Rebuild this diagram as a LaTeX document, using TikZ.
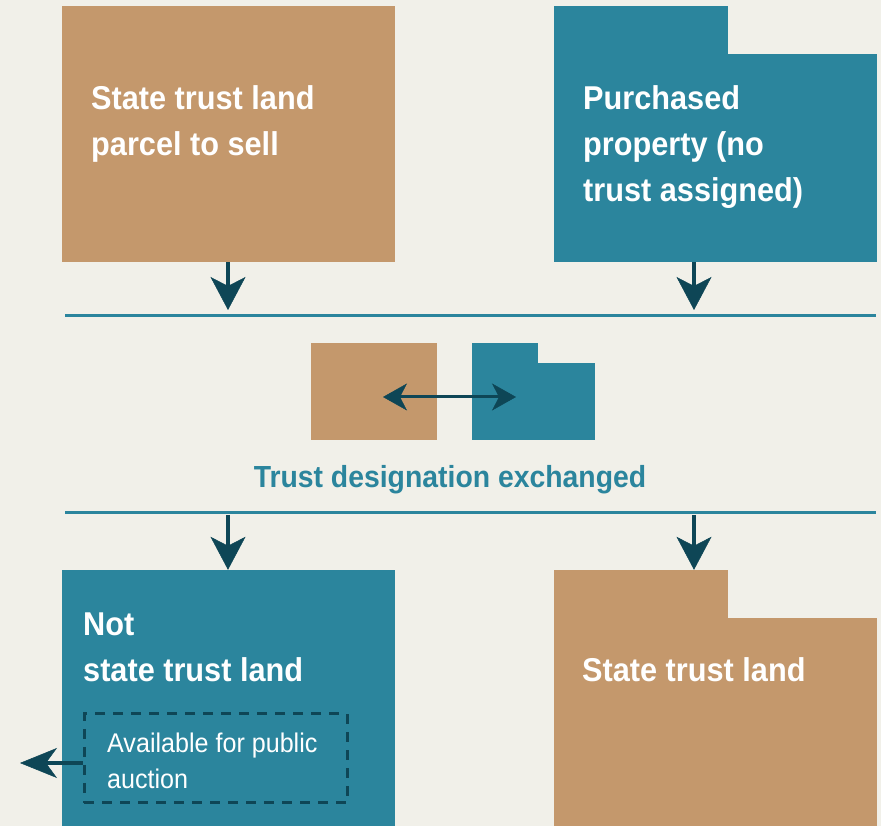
\documentclass[tikz,border=0pt]{standalone}
\usepackage{fontspec}
\setmainfont{Liberation Sans}[FakeStretch=0.93]
\usetikzlibrary{positioning,arrows.meta}
\definecolor{tan}{HTML}{C4986C}
\definecolor{teal}{HTML}{2B859D}
\definecolor{deep}{HTML}{0E4656}
\definecolor{paper}{HTML}{F1F0E9}

\begin{document}
\begin{tikzpicture}[x=1pt, y=1pt,
    >={Stealth[length=33pt, width=35pt, inset=9pt, line width=0.5pt, color=deep, fill=deep]},
    tanbox/.style={rectangle, fill=tan, inner sep=0},
    tealbox/.style={rectangle, fill=teal, inner sep=0},
    boxtxt/.style={anchor=base west, align=left, inner sep=0, text=white,
      font=\fontsize{33}{46}\selectfont\bfseries},
    flow/.style={draw=deep, line width=4pt},
    rule/.style={draw=teal, line width=3pt}]
    \fill [paper] (0,0) rectangle (881,826);
    \useasboundingbox (0,0) rectangle (881,826);

    % top row
    \node [tanbox, minimum width=333, minimum height=256] (land) at (228.5,692) {};
    \node [tealbox, minimum width=323, minimum height=208] (buy) at (715.5,668) {};
    \node [tealbox, minimum width=174, minimum height=49] (buy_tab) at (641,795.5) {};
    \node [boxtxt] (t_land) at (91,670) {State trust land\\parcel to sell};
    \node [boxtxt] (t_buy) at (583,624) {Purchased\\property (no\\trust assigned)};

    % the two rules
    \coordinate (r1_a) at (65,510);
    \coordinate (r1_b) at (876,510);
    \coordinate (r2_a) at (65,313);
    \coordinate (r2_b) at (876,313);
    \path [rule] (r1_a) -- (r1_b);
    \path [rule] (r2_a) -- (r2_b);

    \coordinate (h1_l) at (228,516);
    \coordinate (h1_r) at (694,516);
    \path [flow] (land.south -| h1_l) edge [->] (h1_l);
    \path [flow] (buy.south -| h1_r) edge [->] (h1_r);

    % exchange in the middle
    \node [tanbox, minimum width=126, minimum height=97] (land_s) at (374,434.5) {};
    \node [tealbox, minimum width=123, minimum height=77] (buy_s) at (533.5,424.5) {};
    \node [tealbox, minimum width=66, minimum height=21] (buy_s_tab) at (505,472.5) {};
    \coordinate (sw_l) at (383,429);
    \coordinate (sw_r) at (516,429);
    \path [draw=deep, line width=3pt] (sw_l) edge
      [{Stealth[length=24pt, width=27pt, inset=7pt, line width=0.5pt, color=deep, fill=deep]}-{Stealth[length=24pt, width=27pt, inset=7pt, line width=0.5pt, color=deep, fill=deep]}] (sw_r);
    \node [text=teal, font=\fontsize{30.5}{38}\selectfont\bfseries, anchor=base, inner sep=0]
      (t_swap) at (450,338) {Trust designation exchanged};

    % bottom row
    \node [tealbox, minimum width=333, minimum height=256] (notland) at (228.5,128) {};
    \node [tanbox, minimum width=323, minimum height=208] (newland) at (715.5,104) {};
    \node [tanbox, minimum width=174, minimum height=49] (newland_tab) at (641,231.5) {};
    \coordinate (h2_l) at (228,311);
    \coordinate (h2_r) at (694,311);
    \path [flow] (h2_l) edge [->] (notland.north -| h2_l);
    \path [flow] (h2_r) edge [->] (newland_tab.north -| h2_r);

    \node [boxtxt] (t_notland) at (83,144) {Not\\state trust land};
    \node [boxtxt] (t_newland) at (582,144) {State trust land};

    \node [draw=deep, line width=3pt, dash pattern=on 10pt off 8pt,
      minimum width=263, minimum height=89, inner sep=0] (sale) at (215.5,67.5) {};
    \node [anchor=base west, align=left, inner sep=0, text=white,
      font=\fontsize{27}{36}\selectfont] (t_sale) at (107,37) {Available for public\\auction};
    \coordinate (out) at (20,63);
    \path [draw=deep, line width=4pt] (sale.west |- out) edge
      [->, >={Stealth[length=37pt, width=30pt, inset=11pt, line width=0.5pt, color=deep, fill=deep]}] (out);
\end{tikzpicture}
\end{document}
